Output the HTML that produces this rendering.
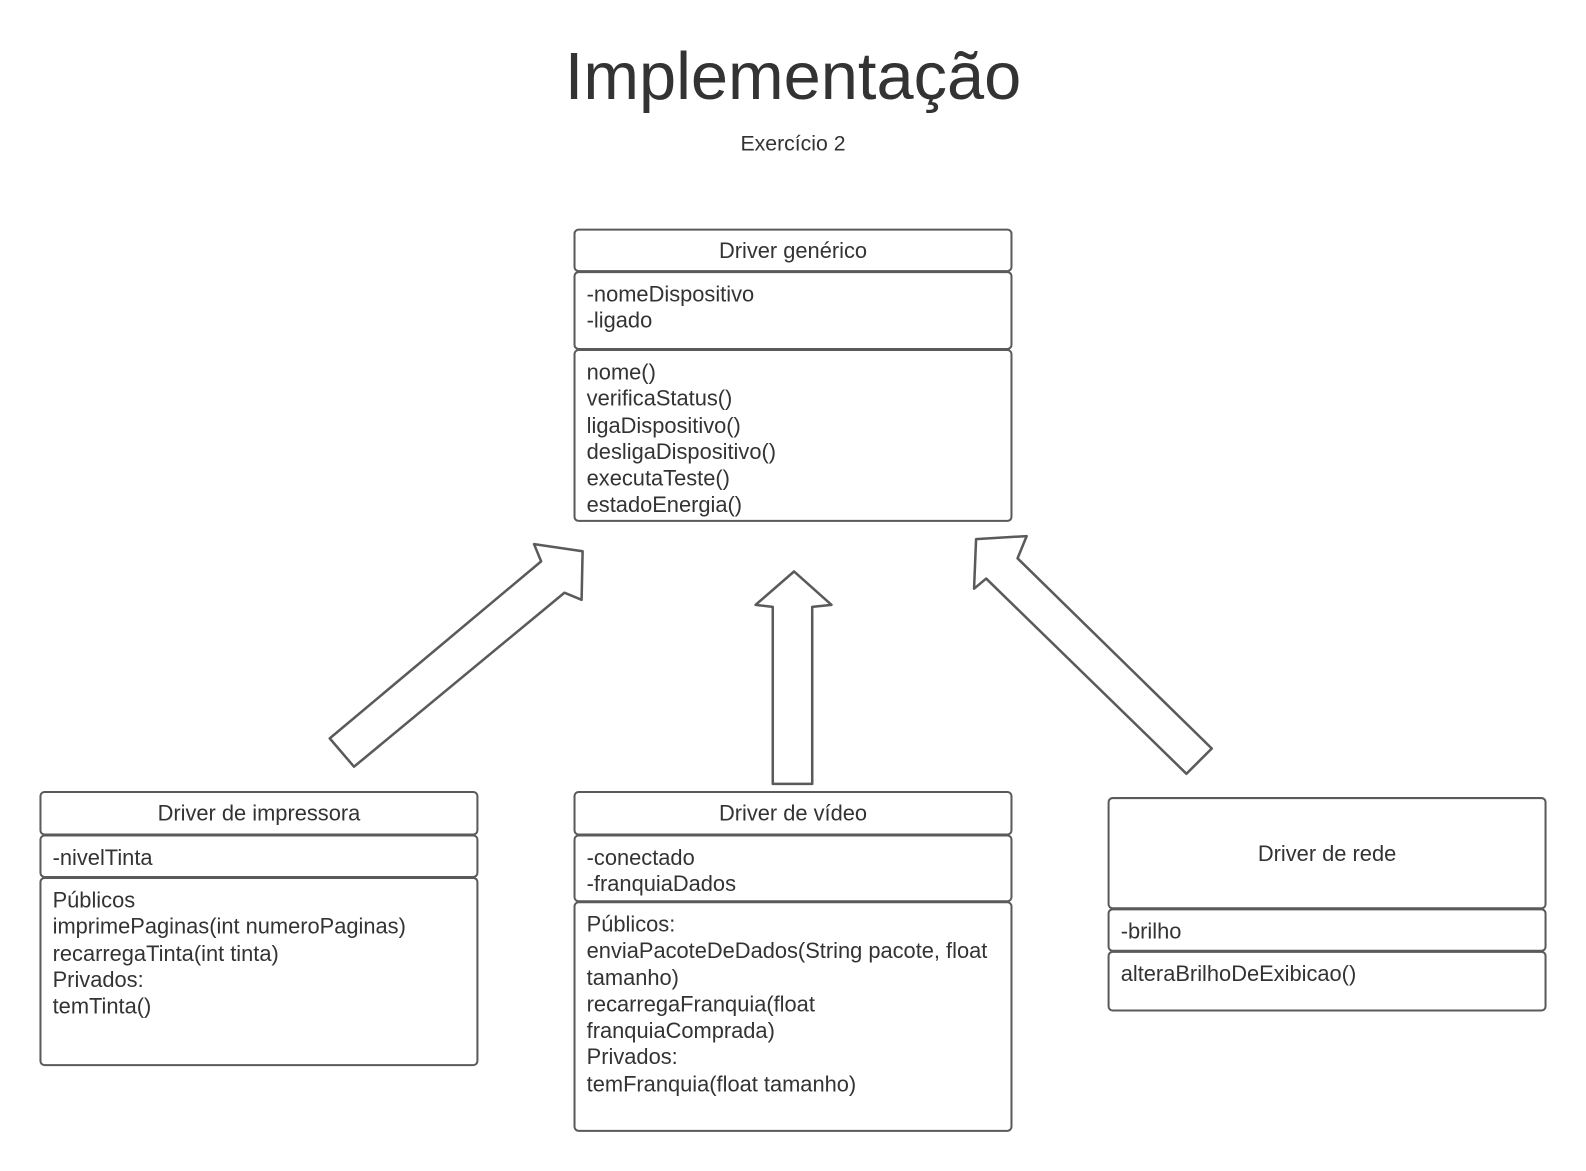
<!DOCTYPE html>
<html><head><meta charset="utf-8"><style>
body{margin:0;width:1586px;height:1171px;background:#fff;font-family:"Liberation Sans",sans-serif;color:#333;position:relative;overflow:hidden}
#w{position:absolute;left:0;top:0;width:1568px;height:1158px;transform:scale(1.01148);transform-origin:0 0}
.t{position:absolute;white-space:nowrap}
.b{position:absolute;border:2.5px solid #5a5a5a;border-radius:5px;box-sizing:border-box;background:#fff}
.h{display:flex;align-items:center;justify-content:center;font-size:21.6px}
.c{font-size:21.6px;line-height:26.3px;padding:8px 0 0 11px}
</style></head><body><div id="w">
<div class="t" style="left:0;width:1568px;text-align:center;top:37px;font-size:66px;color:#333">Implementação</div>
<div class="t" style="left:0;width:1568px;text-align:center;top:131px;font-size:21px">Exercício 2</div>
<svg width="1568" height="1158" style="position:absolute;left:0;top:0">
<g fill="#fff" stroke="#5a5a5a" stroke-width="2.5" stroke-linejoin="round">
<polygon points="326,730 535,555 528,538 576,545 575,593 558,586 350,758"/>
<polygon points="764,775 764,600 747,598 785,565 822,598 803,600 803,775"/>
<polygon points="1173,765 975,572 963,582 965,533 1015,530 1006,552 1198,740"/>
</g></svg>
<div class="b h" style="left:567px;top:226px;width:434px;height:43px">Driver genérico</div>
<div class="b c" style="left:567px;top:268px;width:434px;height:78px">-nomeDispositivo<br>-ligado</div>
<div class="b c" style="left:567px;top:345px;width:434px;height:171px">nome()<br>verificaStatus()<br>ligaDispositivo()<br>desligaDispositivo()<br>executaTeste()<br>estadoEnergia()</div>

<div class="b h" style="left:39px;top:782px;width:434px;height:44px">Driver de impressora</div>
<div class="b c" style="left:39px;top:825px;width:434px;height:43px;padding-top:8px">-nivelTinta</div>
<div class="b c" style="left:39px;top:867px;width:434px;height:187px">Públicos<br>imprimePaginas(int numeroPaginas)<br>recarregaTinta(int tinta)<br>Privados:<br>temTinta()</div>

<div class="b h" style="left:567px;top:782px;width:434px;height:44px">Driver de vídeo</div>
<div class="b c" style="left:567px;top:825px;width:434px;height:67px">-conectado<br>-franquiaDados</div>
<div class="b c" style="left:567px;top:891px;width:434px;height:228px">Públicos:<br>enviaPacoteDeDados(String pacote, float<br>tamanho)<br>recarregaFranquia(float<br>franquiaComprada)<br>Privados:<br>temFranquia(float tamanho)</div>

<div class="b h" style="left:1095px;top:788px;width:434px;height:111px">Driver de rede</div>
<div class="b c" style="left:1095px;top:898px;width:434px;height:43px;padding-top:8px">-brilho</div>
<div class="b c" style="left:1095px;top:940px;width:434px;height:60px">alteraBrilhoDeExibicao()</div>
</div></body></html>
